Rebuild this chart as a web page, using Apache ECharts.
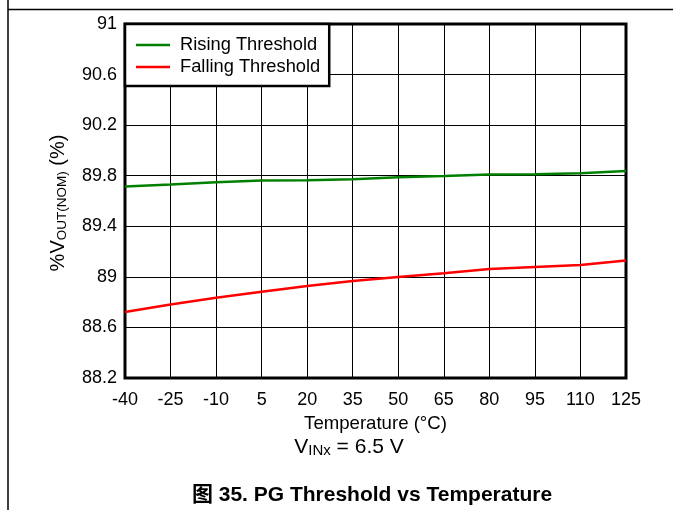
<!DOCTYPE html>
<html><head><meta charset="utf-8">
<script src="https://cdn.jsdelivr.net/npm/echarts@6/dist/echarts.min.js"></script>
<style>html,body{margin:0;padding:0;background:#fff}#c{width:673px;height:510px}</style>
</head><body><div id="c"></div>
<script>
const temps = [-40, -25, -10, 5, 20, 35, 50, 65, 80, 95, 110, 125];
const rising = [89.715, 89.73, 89.748, 89.762, 89.765, 89.773, 89.787, 89.797, 89.81, 89.812, 89.82, 89.837];
const falling = [88.722, 88.782, 88.835, 88.882, 88.927, 88.967, 88.999, 89.028, 89.062, 89.078, 89.093, 89.13];
const seriesNames = ['Rising Threshold', 'Falling Threshold'];
const seriesColors = ['#008000', '#ff0000'];
const xTicks = {min: -40, max: 125, step: 15};
const yTicks = {min: 88.2, max: 91, step: 0.4};

const font = '"Liberation Sans", Arial, sans-serif';
const chart = echarts.init(document.getElementById('c'), null, {renderer: 'canvas'});
chart.setOption({
  animation: false,
  backgroundColor: '#fff',
  grid: {left: 125, right: 47, top: 24, bottom: 132, show: true, borderColor: '#000', borderWidth: 3, backgroundColor: 'transparent'},
  legend: {
    left: 125, top: 24, orient: 'vertical',
    backgroundColor: '#fff', borderColor: '#000', borderWidth: 2.5, borderRadius: 0,
    padding: [12, 9, 10, 11], itemGap: 4, itemWidth: 34, itemHeight: 2.5,
    textStyle: {fontFamily: font, fontSize: 18.3, color: '#000', lineHeight: 18, padding: [0, 0, 0, 5]},
    data: seriesNames.map((n, i) => ({name: n, icon: 'rect', itemStyle: {color: seriesColors[i]}}))
  },
  xAxis: {
    type: 'value', min: xTicks.min, max: xTicks.max, interval: xTicks.step,
    name: 'Temperature (°C)', nameLocation: 'middle', nameGap: 34,
    nameTextStyle: {fontFamily: font, fontSize: 18.6, color: '#000'},
    axisLine: {show: false}, axisTick: {show: false},
    axisLabel: {fontFamily: font, fontSize: 18, color: '#000', margin: 13},
    splitLine: {show: true, lineStyle: {color: '#000', width: 1}}
  },
  yAxis: {
    type: 'value', min: yTicks.min, max: yTicks.max, interval: yTicks.step,
    axisLine: {show: false}, axisTick: {show: false},
    axisLabel: {fontFamily: font, fontSize: 18, color: '#000', margin: 8,
      formatter: v => String(Math.round(v * 10) / 10)},
    splitLine: {show: true, lineStyle: {color: '#000', width: 1}}
  },
  series: [
    {name: seriesNames[0], type: 'line', symbol: 'none', smooth: false,
     lineStyle: {color: seriesColors[0], width: 2.5}, itemStyle: {color: seriesColors[0]},
     data: temps.map((t, i) => [t, rising[i]])},
    {name: seriesNames[1], type: 'line', symbol: 'none', smooth: false,
     lineStyle: {color: seriesColors[1], width: 2.5}, itemStyle: {color: seriesColors[1]},
     data: temps.map((t, i) => [t, falling[i]])}
  ],
  graphic: [
    {type: 'line', shape: {x1: 8, y1: 9.5, x2: 673, y2: 9.5}, style: {stroke: '#000', lineWidth: 1.5}, silent: true},
    {type: 'line', shape: {x1: 8, y1: 0, x2: 8, y2: 510}, style: {stroke: '#000', lineWidth: 1.5}, silent: true},
    {type: 'text', x: 58, y: 203, rotation: Math.PI / 2,
     style: {text: '%V{sub|OUT(NOM)} (%)', fill: '#000', font: '20px "Liberation Sans", Arial, sans-serif',
       align: 'center', verticalAlign: 'middle', lineHeight: 22,
       rich: {sub: {fontSize: 13.5, fontFamily: font, lineHeight: 9, verticalAlign: 'bottom', fill: '#000'}}}},
    {type: 'text', x: 349, y: 447,
     style: {text: 'V{sub|INx} = 6.5 V', fill: '#000', font: '21px "Liberation Sans", Arial, sans-serif',
       align: 'center', verticalAlign: 'middle', lineHeight: 23,
       rich: {sub: {fontSize: 15, fontFamily: font, lineHeight: 10, verticalAlign: 'bottom', fill: '#000'}}}},
    {type: 'text', x: 372, y: 495,
     style: {text: '图 35. PG Threshold vs Temperature', fill: '#000',
       font: 'bold 21px "Liberation Sans", "Noto Sans CJK SC", Arial, sans-serif',
       align: 'center', verticalAlign: 'middle'}}
  ]
});
</script></body></html>
